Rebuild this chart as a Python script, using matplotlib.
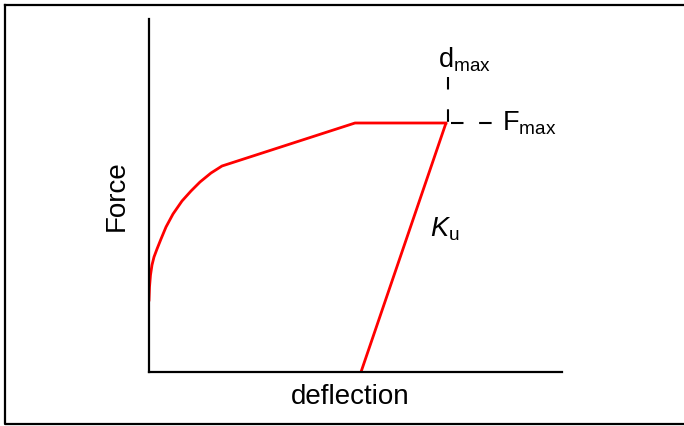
import matplotlib.pyplot as plt
from matplotlib.lines import Line2D

plt.rcParams["font.family"] = ["Liberation Sans", "DejaVu Sans"]
plt.rcParams["mathtext.fontset"] = "custom"
plt.rcParams["mathtext.rm"] = "Liberation Sans"
plt.rcParams["mathtext.it"] = "Liberation Sans:italic"

# loading branch: curved rise, linear hardening, plateau
load_x = [0, 0.5, 1.5, 3, 5, 8, 12, 17, 24, 33, 42, 51, 62, 73, 206, 297]
load_y = [72, 85, 97, 107, 115, 123, 133, 145, 158, 171, 181, 190, 199, 206, 249, 249]
# unloading branch with stiffness K_u
unload_x = [297, 212]
unload_y = [249, 0]

d_max = 299
F_max = 249

fig = plt.figure(figsize=(6.84, 4.26), dpi=100)
ax = fig.add_axes([149 / 684, 54 / 426, 413 / 684, 353 / 426])
ax.set_xlim(0, 413)
ax.set_ylim(0, 353)

ax.plot(load_x, load_y, color="red", lw=2, solid_joinstyle="round")
ax.plot(unload_x, unload_y, color="red", lw=2, solid_capstyle="butt")

# dashed guides marking the peak
ax.plot([d_max, d_max], [295, F_max], color="black", lw=1.5, dashes=(6, 9.5))
ax.plot([d_max + 3, 344], [F_max, F_max], color="black", lw=1.5, dashes=(6, 7.5))

ax.text(316, 312, r"$\mathrm{d}_{\mathrm{max}}$", fontsize=19.5, ha="center", va="center")
ax.text(353, 249, r"$\mathrm{F}_{\mathrm{max}}$", fontsize=19.5, ha="left", va="center")
ax.text(281, 143, r"$K_{\mathrm{u}}$", fontsize=19.5, ha="left", va="center")

for s in ["top", "right"]:
    ax.spines[s].set_visible(False)
for s in ["left", "bottom"]:
    ax.spines[s].set_linewidth(1.6)
ax.set_xticks([])
ax.set_yticks([])
ax.set_xlabel("deflection", fontsize=20)
ax.xaxis.set_label_coords(0.487, -0.033, transform=None)
ax.xaxis.label.set_va("top")
ax.set_ylabel("Force", fontsize=20, labelpad=14)

# outer frame
fx = [5 / 684, 5 / 684, 1.01, 1.01, 5 / 684]
fy = [1 - 5 / 426, 2 / 426, 2 / 426, 1 - 5 / 426, 1 - 5 / 426]
fig.add_artist(Line2D(fx, fy, color="black", lw=1.6, transform=fig.transFigure))

fig.savefig("out.png", dpi=100)
